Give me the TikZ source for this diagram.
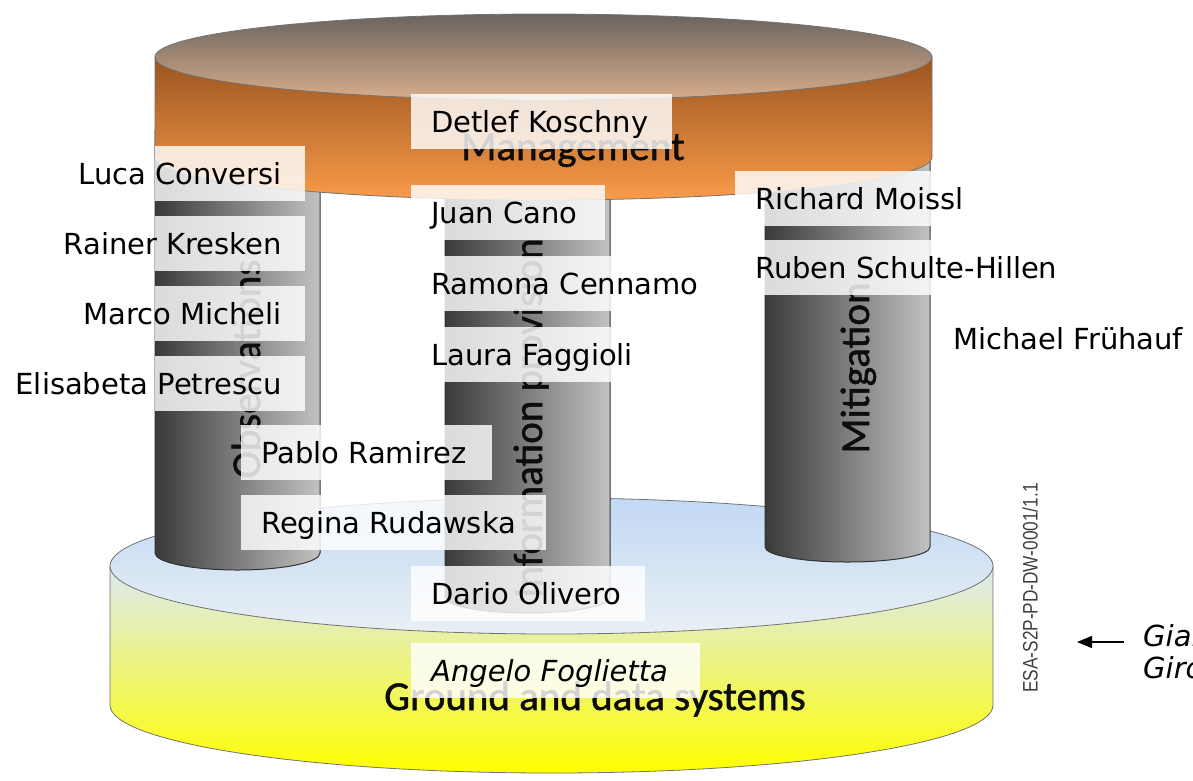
\documentclass[tikz,border=0pt]{standalone}
\usepackage{fontspec}
\setmainfont{DejaVu Sans}
\newfontfamily\calfont[FakeBold=1.2]{Carlito}
\newfontfamily\codefont[FakeStretch=0.82]{Liberation Sans}
\usetikzlibrary{arrows.meta}
\definecolor{mgTopA}{HTML}{6A635E}
\definecolor{mgTopB}{HTML}{D9AE8B}
\definecolor{mgBodyA}{HTML}{9A541F}
\definecolor{mgBodyB}{HTML}{F99B4A}
\definecolor{gdTopA}{HTML}{C2D8F4}
\definecolor{gdTopB}{HTML}{E9F0F4}
\definecolor{gdBodyA}{HTML}{DCE9F3}
\definecolor{gdBodyB}{HTML}{FFFF00}
\definecolor{pilA}{HTML}{3A3A3A}
\definecolor{pilB}{HTML}{C2C2C2}
\newcommand{\nbl}[2]{\makebox[#1][l]{\hspace*{20pt}#2}}
\newcommand{\nbr}[2]{\makebox[#1][r]{#2\hspace*{23pt}}}
\begin{document}
\begin{tikzpicture}[x=1pt,y=-1pt,
  edge/.style={draw=black!55, line width=0.8pt},
  pillar/.style={left color=pilA, right color=pilB, draw=black!80, line width=1pt},
  nm/.style={fill=white, fill opacity=0.82, text opacity=1, inner sep=0pt, minimum height=55pt, text height=26pt, text depth=4pt, font=\fontsize{29}{34}\selectfont, anchor=west},
  nmplain/.style={inner sep=0pt, text height=26pt, text depth=4pt, font=\fontsize{29}{34}\selectfont, anchor=west},
  pillartext/.style={font=\calfont\fontsize{41}{48}\selectfont, text=black!95, inner sep=0pt, anchor=base},
]
\useasboundingbox (0,0) rectangle (1193,780);
\fill[white] (0,0) rectangle (1193,780);

% ground and data systems
\path[edge, top color=gdBodyA, bottom color=gdBodyB] (110,566) -- (110,705) arc[start angle=180, end angle=360, x radius=441.5pt, y radius=68pt] -- (993,566) -- cycle;
\path[edge, top color=gdTopA, bottom color=gdTopB] (551.5,566) ellipse [x radius=441.5pt, y radius=68pt];

% pillars
\path[pillar] (155,130) -- (155,553) arc[start angle=180, end angle=360, x radius=82.5pt, y radius=17pt] -- (320,130) -- cycle;
\path[pillar] (445,130) -- (445,597) arc[start angle=180, end angle=360, x radius=82.5pt, y radius=16pt] -- (610,130) -- cycle;
\path[pillar] (765,130) -- (765,547) arc[start angle=180, end angle=360, x radius=82.5pt, y radius=15pt] -- (930,130) -- cycle;

% management
\path[edge, top color=mgBodyA, bottom color=mgBodyB] (155,57) -- (155,157) arc[start angle=180, end angle=360, x radius=388.5pt, y radius=43pt] -- (932,57) -- cycle;
\path[edge, top color=mgTopA, bottom color=mgTopB] (543.5,57) ellipse [x radius=388.5pt, y radius=43pt];

% block texts
\node[pillartext, rotate=90] (obs) at (260,369) {Observations};
\node[pillartext, rotate=90] (info) at (542,418) {Information provision};
\node[pillartext, rotate=90] (mit) at (869,368) {Mitigation};
\node[pillartext] (mgmt) at (573,160) {Management};
\node[pillartext] (gds) at (595,710) {Ground and data systems};

\node[font=\codefont\fontsize{21}{24}\selectfont, text=black!75, rotate=90, inner sep=0pt] (code) at (1030,588) {ESA-S2P-PD-DW-0001/1.1};

% names
\node[nm] (detlef) at (411,121.5) {\nbl{261pt}{Detlef Koschny}};
\node[nm, anchor=east] (luca) at (305,173.5) {\nbr{150pt}{Luca Conversi}};
\node[nm, anchor=east] (rainer) at (305,243.5) {\nbr{150pt}{Rainer Kresken}};
\node[nm, anchor=east] (marco) at (305,313.5) {\nbr{150pt}{Marco Micheli}};
\node[nm, anchor=east] (elisabeta) at (305,383.5) {\nbr{150pt}{Elisabeta Petrescu}};
\node[nm] (pablo) at (241,452.5) {\nbl{251pt}{Pablo Ramirez}};
\node[nm] (regina) at (241,522.5) {\nbl{305pt}{Regina Rudawska}};
\node[nm] (juan) at (411,212.5) {\nbl{194pt}{Juan Cano}};
\node[nm] (ramona) at (411,283.5) {\nbl{310pt}{Ramona Cennamo}};
\node[nm] (laura) at (411,354.5) {\nbl{250pt}{Laura Faggioli}};
\node[nm] (dario) at (411,593.5) {\nbl{234pt}{Dario Olivero}};
\node[nm] (angelo) at (411,670.5) {\nbl{289pt}{\itshape Angelo Foglietta}};
\node[nm] (richard) at (735,198.5) {\nbl{196pt}{Richard Moissl}};
\node[nm] (ruben) at (735,267.5) {\nbl{196pt}{Ruben Schulte-Hillen}};
\node[nmplain] (michael) at (953,338) {Michael Frühauf};

\node[inner sep=0pt, align=left, anchor=north west, font=\itshape\fontsize{29}{32}\selectfont] (gian) at (1143,624) {Gian\\Giro};
\coordinate (arrS) at (1124,642);
\coordinate (arrE) at (1077,642);
\draw[line width=1.6pt, -{Triangle[length=15pt,width=12pt]}] (arrS) -- (arrE);
\end{tikzpicture}
\end{document}
